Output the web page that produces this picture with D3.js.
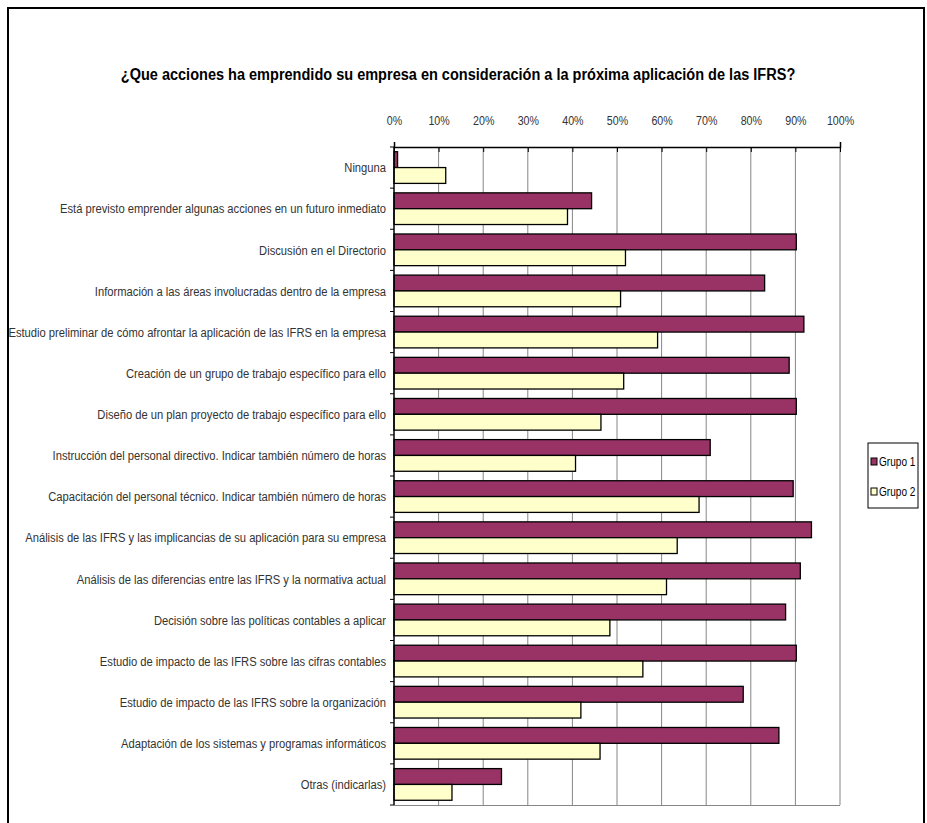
<!DOCTYPE html>
<html>
<head>
<meta charset="utf-8">
<script src="https://cdn.jsdelivr.net/npm/d3@7"></script>
<style>
  body { margin: 0; background: #fff; }
  text { font-family: "Liberation Sans", Arial, sans-serif; }
</style>
</head>
<body>
<svg id="chart"></svg>
<script>
const categories = [
    "Ninguna",
    "Está previsto emprender algunas acciones en un futuro inmediato",
    "Discusión en el Directorio",
    "Información a las áreas involucradas dentro de la empresa",
    "Estudio preliminar de cómo afrontar la aplicación de las IFRS en la empresa",
    "Creación de un grupo de trabajo específico para ello",
    "Diseño de un plan proyecto de trabajo específico para ello",
    "Instrucción del personal directivo. Indicar también número de horas",
    "Capacitación del personal técnico. Indicar también número de horas",
    "Análisis de las IFRS y las implicancias de su aplicación para su empresa",
    "Análisis de las diferencias entre las IFRS y la normativa actual",
    "Decisión sobre las políticas contables a aplicar",
    "Estudio de impacto de las IFRS sobre las cifras contables",
    "Estudio de impacto de las IFRS sobre la organización",
    "Adaptación de los sistemas y programas informáticos",
    "Otras (indicarlas)"
];
const grupo1 = [0.8, 44.3, 90.2, 83.1, 91.9, 88.6, 90.2, 70.9, 89.5, 93.6, 91.1, 87.8, 90.2, 78.3, 86.3, 24.1];
const grupo2 = [11.6, 38.9, 51.9, 50.8, 59.1, 51.5, 46.4, 40.7, 68.4, 63.5, 61.1, 48.4, 55.8, 41.9, 46.2, 13.0];
const seriesNames = ["Grupo 1", "Grupo 2"];
const tickValues = [0, 10, 20, 30, 40, 50, 60, 70, 80, 90, 100];
const title = "¿Que acciones ha emprendido su empresa en consideración a la próxima aplicación de las IFRS?";

const width = 927, height = 823;
const margin = {top: 147, right: 87, bottom: 18, left: 394};
const colors = ["#993366", "#FFFFCC"];
// no narrow font installed, so squeeze text horizontally
const narrow = 0.84;

const data = categories.map((c, i) => ({cat: c, values: [grupo1[i], grupo2[i]]}));

const svg = d3.select("#chart")
    .attr("width", width)
    .attr("height", height);

// outer frame
svg.append("rect")
    .attr("x", 8).attr("y", 8)
    .attr("width", 916).attr("height", 830)
    .attr("fill", "none")
    .attr("stroke", "#000")
    .attr("stroke-width", 2);

svg.append("text")
    .attr("transform", `translate(458,80) scale(0.855,1)`)
    .attr("text-anchor", "middle")
    .attr("font-size", 17)
    .attr("font-weight", "bold")
    .attr("fill", "#000")
    .text(title);

let x = d3.scaleLinear()
    .domain([0, 100])
    .range([margin.left, width - margin.right]);

let y = d3.scaleBand()
    .domain(categories)
    .range([margin.top, height - margin.bottom])
    .paddingInner(0.23)
    .paddingOuter(0.115);

let yInner = d3.scaleBand()
    .domain([0, 1])
    .range([0, y.bandwidth()]);

// gridlines
svg.append("g")
    .selectAll("line")
    .data(tickValues.slice(1))
    .join("line")
    .attr("x1", d => x(d)).attr("x2", d => x(d))
    .attr("y1", margin.top).attr("y2", height - margin.bottom)
    .attr("stroke", "#868686")
    .attr("stroke-width", 1);

// plot border bottom
svg.append("line")
    .attr("x1", margin.left).attr("x2", x(100))
    .attr("y1", height - margin.bottom + 0.5).attr("y2", height - margin.bottom + 0.5)
    .attr("stroke", "#868686");

// bars
svg.append("g")
    .selectAll("g")
    .data(data)
    .join("g")
    .attr("transform", d => `translate(0,${y(d.cat)})`)
    .selectAll("rect")
    .data(d => d.values)
    .join("rect")
    .attr("x", x(0))
    .attr("y", (d, i) => yInner(i))
    .attr("width", d => x(d) - x(0))
    .attr("height", yInner.bandwidth())
    .attr("fill", (d, i) => colors[i])
    .attr("stroke", "#000")
    .attr("stroke-width", 1.3);

// top axis
let xAxis = g => g
    .attr("transform", `translate(0,${margin.top})`)
    .call(d3.axisTop(x).tickValues(tickValues).tickFormat(d => d + "%").tickSize(5).tickPadding(17))
    .call(g => g.select(".domain").attr("stroke", "#000").attr("stroke-width", 1.5))
    .call(g => g.selectAll(".tick line").attr("stroke", "#000").attr("transform", "translate(0,5)"))
    .call(g => g.selectAll(".tick text")
        .attr("font-family", "'Liberation Sans', Arial, sans-serif")
        .attr("font-size", 13)
        .attr("fill", "#333")
        .attr("transform", `scale(0.82,1)`));

svg.append("g").call(xAxis);

// left axis with category ticks between bands
let yAxisG = svg.append("g")
    .attr("transform", `translate(${margin.left},0)`);

yAxisG.append("line")
    .attr("x1", 0).attr("x2", 0)
    .attr("y1", margin.top).attr("y2", height - margin.bottom)
    .attr("stroke", "#000")
    .attr("stroke-width", 1.5);

const step = (height - margin.bottom - margin.top) / categories.length;
yAxisG.selectAll("line.tk")
    .data(d3.range(categories.length + 1))
    .join("line")
    .attr("class", "tk")
    .attr("x1", -4).attr("x2", 0)
    .attr("y1", d => margin.top + d * step)
    .attr("y2", d => margin.top + d * step)
    .attr("stroke", "#000");

yAxisG.selectAll("text")
    .data(categories)
    .join("text")
    .attr("transform", d => `translate(-8,${y(d) + y.bandwidth() / 2}) scale(0.83,1)`)
    .attr("dy", "0.35em")
    .attr("text-anchor", "end")
    .attr("font-size", 13.5)
    .attr("fill", "#333")
    .text(d => d);

// legend
const legend = svg.append("g").attr("transform", "translate(868,443)");
legend.append("rect")
    .attr("width", 50).attr("height", 65)
    .attr("fill", "#fff")
    .attr("stroke", "#000")
    .attr("stroke-width", 1);

legend.selectAll("g")
    .data(seriesNames)
    .join("g")
    .attr("transform", (d, i) => `translate(3,${19 + i * 30})`)
    .call(g => g.append("rect")
        .attr("x", 0).attr("y", -4)
        .attr("width", 6).attr("height", 7)
        .attr("fill", (d, i) => colors[i])
        .attr("stroke", "#000"))
    .call(g => g.append("text")
        .attr("transform", `translate(8,0) scale(${narrow},1)`)
        .attr("dy", "0.35em")
        .attr("font-size", 12)
        .attr("fill", "#000")
        .text(d => d));
</script>
</body>
</html>
